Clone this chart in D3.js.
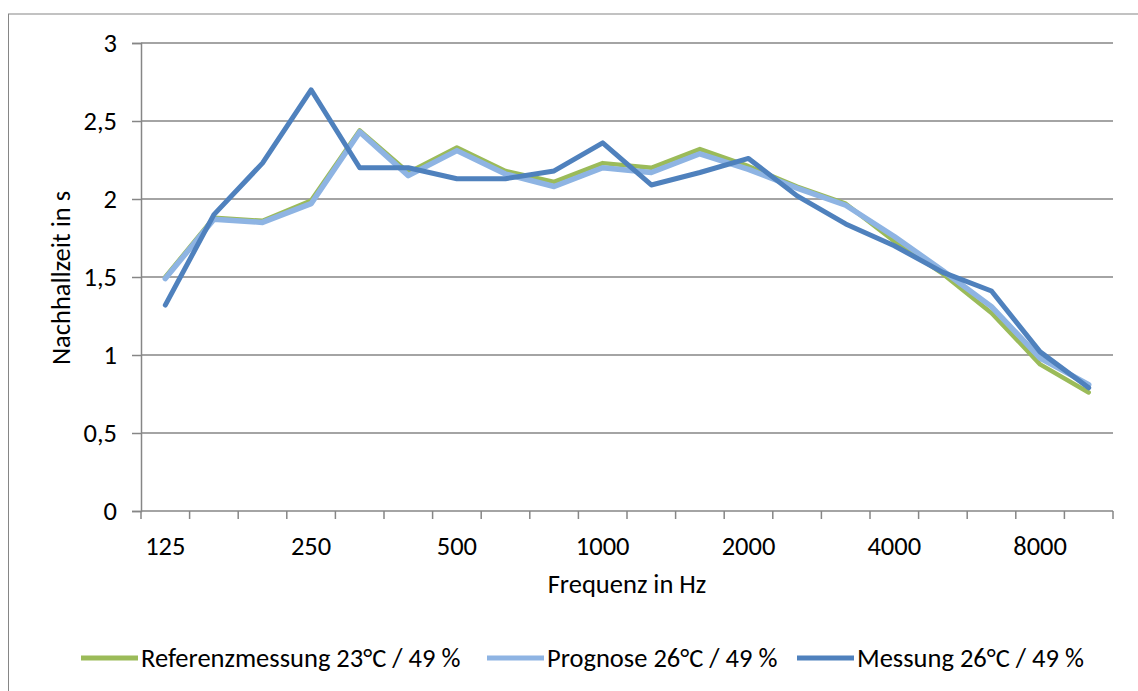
<!DOCTYPE html>
<html>
<head>
<meta charset="utf-8">
<script src="https://cdn.jsdelivr.net/npm/d3@7"></script>
<style>
  body { margin: 0; background: #fff; }
  svg text { font-family: Carlito, "Open Sans", sans-serif; fill: #000; }
</style>
</head>
<body>
<script>
// Terzband-Frequenzen (Kategorien)
var bands = ['125', '160', '200', '250', '315', '400', '500', '630', '800', '1000',
  '1250', '1600', '2000', '2500', '3150', '4000', '5000', '6300', '8000', '10000'];

// nur jede dritte Kategorie wird beschriftet
var bandLabels = ['125', '250', '500', '1000', '2000', '4000', '8000'];

var referenz = [1.50, 1.88, 1.86, 1.99, 2.44, 2.17, 2.33, 2.18, 2.11, 2.23,
  2.20, 2.32, 2.21, 2.08, 1.97, 1.73, 1.52, 1.27, 0.94, 0.76];

var prognose = [1.49, 1.87, 1.85, 1.97, 2.43, 2.15, 2.31, 2.16, 2.08, 2.20,
  2.17, 2.29, 2.19, 2.07, 1.96, 1.76, 1.54, 1.31, 0.98, 0.81];

var messung = [1.32, 1.90, 2.23, 2.70, 2.20, 2.20, 2.13, 2.13, 2.18, 2.36,
  2.09, 2.17, 2.26, 2.02, 1.84, 1.70, 1.53, 1.41, 1.02, 0.79];

var seriesNames = ['Referenzmessung 23°C / 49 %', 'Prognose 26°C / 49 %', 'Messung 26°C / 49 %'];
var yTicks = [0, 0.5, 1, 1.5, 2, 2.5, 3];

var series = [
  { name: seriesNames[0], values: referenz, color: '#9bbb59', width: 4.5 },
  { name: seriesNames[1], values: prognose, color: '#8eb4e3', width: 5.5 },
  { name: seriesNames[2], values: messung, color: '#4f81bd', width: 5 }
];

var width = 1138,
    height = 691,
    fontSize = 26.5;

var margin = { top: 43, right: 25, bottom: 180, left: 141 };

var svg = d3.select('body')
  .append('svg')
  .attr('width', width)
  .attr('height', height);

// Rahmen des Diagrammbereichs
svg.append('rect')
  .attr('x', 8.5)
  .attr('y', 14)
  .attr('width', 1140)
  .attr('height', 700)
  .attr('fill', 'none')
  .attr('stroke', '#868686')
  .attr('stroke-width', 1);

var x = d3.scaleBand()
  .domain(bands)
  .range([margin.left, width - margin.right]);

var y = d3.scaleLinear()
  .domain([0, 3])
  .range([height - margin.bottom, margin.top]);

// horizontale Gitterlinien
svg.append('g')
  .selectAll('line')
  .data(yTicks.slice(1))
  .enter().append('line')
  .attr('x1', margin.left)
  .attr('x2', width - margin.right)
  .attr('y1', function(d) { return y(d); })
  .attr('y2', function(d) { return y(d); })
  .attr('stroke', '#868686')
  .attr('stroke-width', 1.5);

// y-Achse
var yAxis = svg.append('g')
  .attr('transform', 'translate(' + margin.left + ',0)')
  .call(d3.axisLeft(y)
    .tickValues(yTicks)
    .tickSize(9)
    .tickPadding(15)
    .tickFormat(function(d) { return String(d).replace('.', ','); }));

yAxis.selectAll('path, line').attr('stroke', '#868686').attr('stroke-width', 1.5);
yAxis.selectAll('text')
  .attr('font-size', fontSize)
  .attr('fill', '#000')
  .style('font-family', 'Carlito, "Open Sans", sans-serif');

// x-Achse: Striche an den Kategoriegrenzen
var xAxis = svg.append('g')
  .attr('transform', 'translate(0,' + y(0) + ')');

xAxis.append('line')
  .attr('x1', margin.left)
  .attr('x2', width - margin.right)
  .attr('stroke', '#868686')
  .attr('stroke-width', 1.5);

xAxis.selectAll('.tick')
  .data(bands.concat(['end']))
  .enter().append('line')
  .attr('x1', function(d, i) { return margin.left + i * x.step(); })
  .attr('x2', function(d, i) { return margin.left + i * x.step(); })
  .attr('y1', 0)
  .attr('y2', 8)
  .attr('stroke', '#868686')
  .attr('stroke-width', 1.5);

xAxis.selectAll('.label')
  .data(bandLabels)
  .enter().append('text')
  .attr('x', function(d) { return x(d) + x.bandwidth() / 2; })
  .attr('y', 44)
  .attr('text-anchor', 'middle')
  .attr('font-size', fontSize)
  .text(function(d) { return d; });

// Linien
var line = d3.line()
  .x(function(d, i) { return x(bands[i]) + x.bandwidth() / 2; })
  .y(function(d) { return y(d); });

svg.append('g')
  .selectAll('path')
  .data(series)
  .enter().append('path')
  .attr('d', function(d) { return line(d.values); })
  .attr('fill', 'none')
  .attr('stroke', function(d) { return d.color; })
  .attr('stroke-width', function(d) { return d.width; })
  .attr('stroke-linejoin', 'round')
  .attr('stroke-linecap', 'round');

// Achsentitel
svg.append('text')
  .attr('x', (margin.left + width - margin.right) / 2)
  .attr('y', 593)
  .attr('text-anchor', 'middle')
  .attr('font-size', fontSize)
  .text('Frequenz in Hz');

svg.append('text')
  .attr('transform', 'translate(69.5,278) rotate(-90)')
  .attr('text-anchor', 'middle')
  .attr('font-size', fontSize)
  .text('Nachhallzeit in s');

// Legende
var legendX = [81, 487, 797];

var legend = svg.append('g')
  .selectAll('g')
  .data(series)
  .enter().append('g')
  .attr('transform', function(d, i) { return 'translate(' + legendX[i] + ',658)'; });

legend.append('line')
  .attr('x1', 0)
  .attr('x2', 57)
  .attr('stroke', function(d) { return d.color; })
  .attr('stroke-width', 5);

legend.append('text')
  .attr('x', 60)
  .attr('y', 8.5)
  .attr('font-size', fontSize)
  .text(function(d) { return d.name; });
</script>
</body>
</html>
